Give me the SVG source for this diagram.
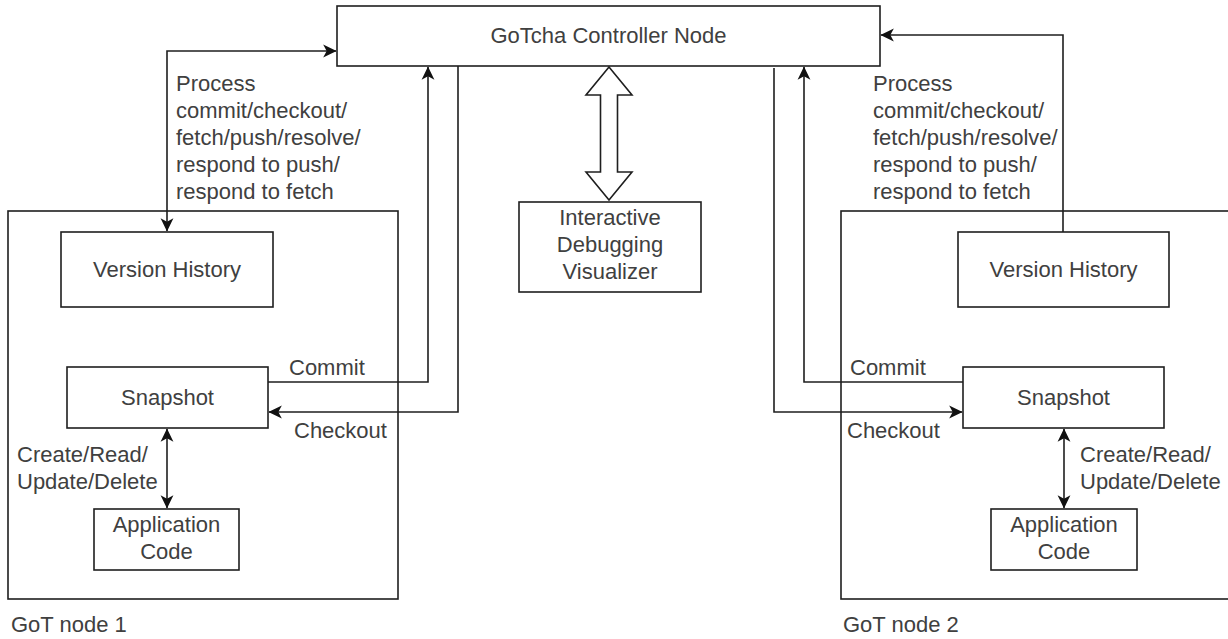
<svg xmlns="http://www.w3.org/2000/svg" width="1228" height="639" viewBox="0 0 1228 639">
  <style>
    .box { fill: #ffffff; stroke: #1f1f1f; stroke-width: 1.6; }
    .frame { fill: none; stroke: #1f1f1f; stroke-width: 1.6; }
    .wire { fill: none; stroke: #1f1f1f; stroke-width: 1.6; }
    .lbl { font-family: "Liberation Sans", Arial, sans-serif; font-size: 22px; fill: #404040; }
    .mid { text-anchor: middle; }
  </style>
  <defs>
    <marker id="head" markerUnits="userSpaceOnUse" markerWidth="14" markerHeight="14" viewBox="0 0 12 12" refX="11" refY="6" orient="auto-start-reverse">
      <path d="M0,0.5 L11.5,6 L0,11.5 L3,6 z" fill="#111111"/>
    </marker>
  </defs>

  <rect width="1228" height="639" fill="#ffffff"/>

  <!-- GoT node containers -->
  <g id="got-node-1">
    <rect class="frame" x="8" y="211" width="390" height="388"/>
    <text class="lbl" x="11" y="632">GoT node 1</text>
  </g>
  <g id="got-node-2">
    <rect class="frame" x="841" y="211" width="400" height="388"/>
    <text class="lbl" x="843" y="632">GoT node 2</text>
  </g>

  <!-- connectors -->
  <g id="connectors">
    <path class="wire" d="M167,231 V51 H336" marker-start="url(#head)" marker-end="url(#head)"/>
    <path class="wire" d="M268,382 H428 V67" marker-end="url(#head)"/>
    <path class="wire" d="M458,66 V412 H269" marker-end="url(#head)"/>
    <path class="wire" d="M167,429 V508" marker-start="url(#head)" marker-end="url(#head)"/>
    <path class="wire" d="M1063,232 V35 H881" marker-end="url(#head)"/>
    <path class="wire" d="M963,382 H804 V67" marker-end="url(#head)"/>
    <path class="wire" d="M774,68 V412 H962" marker-end="url(#head)"/>
    <path class="wire" d="M1064,429 V508" marker-start="url(#head)" marker-end="url(#head)"/>
    <polygon class="box" points="609,67 632,95 617.5,95 617.5,172 632,172 609,200 586,172 600.5,172 600.5,95 586,95"/>
  </g>

  <!-- connector labels -->
  <g id="connector-labels">
    <text class="lbl" x="176" y="91">Process</text>
    <text class="lbl" x="176" y="118">commit/checkout/</text>
    <text class="lbl" x="176" y="145">fetch/push/resolve/</text>
    <text class="lbl" x="176" y="172">respond to push/</text>
    <text class="lbl" x="176" y="199">respond to fetch</text>
    <text class="lbl" x="873" y="91">Process</text>
    <text class="lbl" x="873" y="118">commit/checkout/</text>
    <text class="lbl" x="873" y="145">fetch/push/resolve/</text>
    <text class="lbl" x="873" y="172">respond to push/</text>
    <text class="lbl" x="873" y="199">respond to fetch</text>
    <text class="lbl" x="289" y="375">Commit</text>
    <text class="lbl" x="294" y="438">Checkout</text>
    <text class="lbl" x="850" y="375">Commit</text>
    <text class="lbl" x="847" y="438">Checkout</text>
    <text class="lbl" x="17" y="462">Create/Read/</text>
    <text class="lbl" x="17" y="489">Update/Delete</text>
    <text class="lbl" x="1080" y="462">Create/Read/</text>
    <text class="lbl" x="1080" y="489">Update/Delete</text>
  </g>

  <g id="controller">
    <rect class="box" x="337" y="6" width="543" height="60"/>
    <text class="lbl mid" x="608.5" y="43">GoTcha Controller Node</text>
  </g>

  <g id="visualizer">
    <rect class="box" x="519" y="202" width="182" height="90"/>
    <text class="lbl mid" x="610" y="225">Interactive</text>
    <text class="lbl mid" x="610" y="252">Debugging</text>
    <text class="lbl mid" x="610" y="279">Visualizer</text>
  </g>

  <g id="version-history-1">
    <rect class="box" x="61" y="232" width="212" height="75"/>
    <text class="lbl mid" x="167" y="277">Version History</text>
  </g>
  <g id="snapshot-1">
    <rect class="box" x="67" y="367" width="201" height="61"/>
    <text class="lbl mid" x="167.5" y="405">Snapshot</text>
  </g>
  <g id="app-code-1">
    <rect class="box" x="94" y="509" width="145" height="61"/>
    <text class="lbl mid" x="166.5" y="532">Application</text>
    <text class="lbl mid" x="166.5" y="559">Code</text>
  </g>

  <g id="version-history-2">
    <rect class="box" x="958" y="232" width="211" height="75"/>
    <text class="lbl mid" x="1063.5" y="277">Version History</text>
  </g>
  <g id="snapshot-2">
    <rect class="box" x="963" y="367" width="201" height="61"/>
    <text class="lbl mid" x="1063.5" y="405">Snapshot</text>
  </g>
  <g id="app-code-2">
    <rect class="box" x="991" y="509" width="146" height="61"/>
    <text class="lbl mid" x="1064" y="532">Application</text>
    <text class="lbl mid" x="1064" y="559">Code</text>
  </g>
</svg>
